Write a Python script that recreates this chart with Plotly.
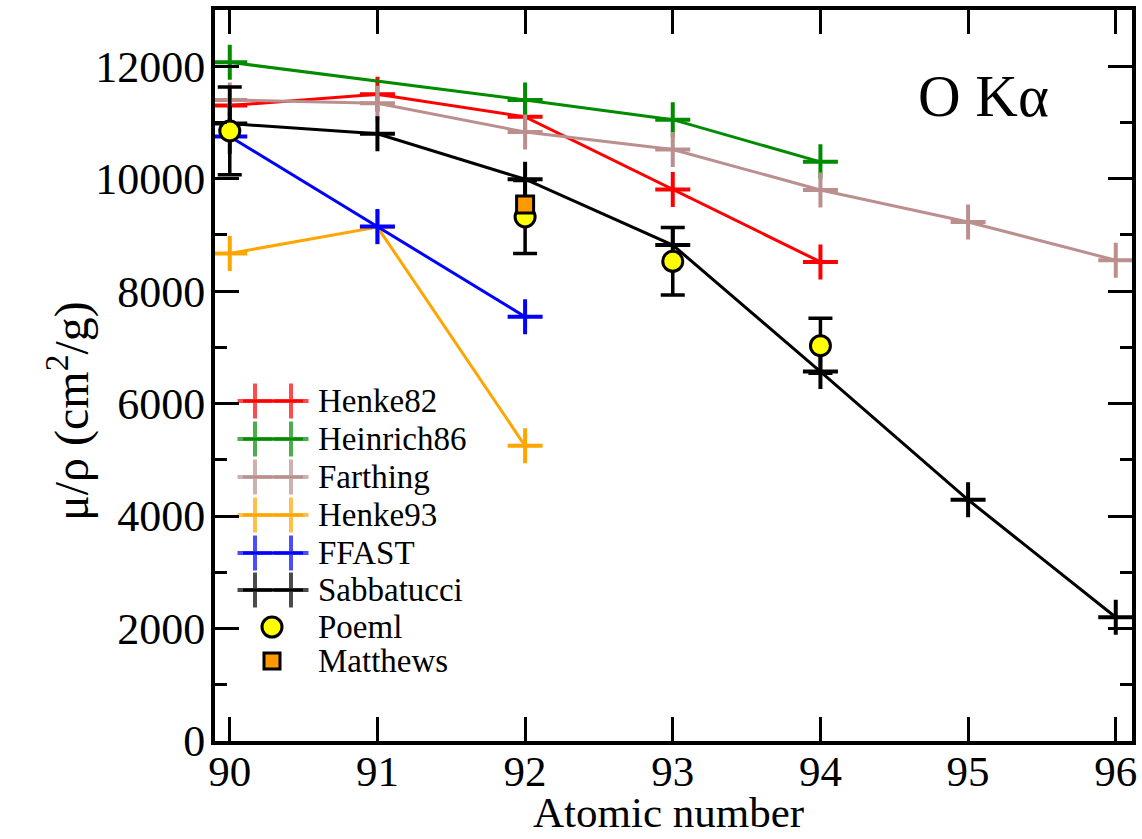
import plotly.graph_objects as go

# Data
henke82_x = [90, 91, 92, 93, 94]
henke82_y = [11300, 11500, 11100, 9810, 8520]

heinrich86_x = [90, 92, 93, 94]
heinrich86_y = [12070, 11400, 11050, 10300]

farthing_x = [90, 91, 92, 93, 94, 95, 96]
farthing_y = [11400, 11340, 10830, 10520, 9800, 9230, 8550]

henke93_x = [90, 91, 92]
henke93_y = [8670, 9140, 5250]

ffast_x = [90, 91, 92]
ffast_y = [10750, 9150, 7545]

sabbatucci_x = [90, 91, 92, 93, 94, 95, 96]
sabbatucci_y = [10980, 10800, 9990, 8820, 6570, 4290, 2200]

poeml_x = [90, 92, 93, 94]
poeml_y = [10850, 9320, 8530, 7030]
poeml_err = [780, 650, 600, 490]

matthews_x = [92]
matthews_y = [9540]

x_ticks = [90, 91, 92, 93, 94, 95, 96]
y_ticks = [0, 2000, 4000, 6000, 8000, 10000, 12000]

FONT = "Liberation Serif"

# Layout geometry (pixels)
L, R, T, B = 215, 1132, 10, 741
W, H = 1142, 839


def px_to_paper(px, py):
    return (px - L) / (R - L), (B - py) / (B - T)


fig = go.Figure()

line_series = [
    ("Henke82", henke82_x, henke82_y, "#ff0000"),
    ("Heinrich86", heinrich86_x, heinrich86_y, "#008b00"),
    ("Farthing", farthing_x, farthing_y, "#bc8f8f"),
    ("Henke93", henke93_x, henke93_y, "#ffa500"),
    ("FFAST", ffast_x, ffast_y, "#0000ff"),
    ("Sabbatucci", sabbatucci_x, sabbatucci_y, "#000000"),
]

for name, xs, ys, col in line_series:
    fig.add_trace(go.Scatter(
        x=xs, y=ys, name=name, mode="lines+markers", showlegend=False,
        line=dict(color=col, width=3),
        marker=dict(symbol="cross-thin", size=25, color=col,
                    line=dict(color=col, width=4)),
    ))

fig.add_trace(go.Scatter(
    x=poeml_x, y=poeml_y, name="Poeml", mode="markers", showlegend=False,
    marker=dict(symbol="circle", size=20, color="#ffff00",
                line=dict(color="#000000", width=3)),
    error_y=dict(type="data", array=poeml_err, visible=True,
                 color="#000000", thickness=3.5, width=12),
))

fig.add_trace(go.Scatter(
    x=matthews_x, y=matthews_y, name="Matthews", mode="markers", showlegend=False,
    marker=dict(symbol="square", size=17, color="#ff9900",
                line=dict(color="#000000", width=3)),
))

# Legend (xmgrace style) drawn on a pixel-based overlay axis
legend_rows_y = [401, 439, 477, 515, 553, 590, 627, 661]
for (name, xs, ys, col), ry in zip(line_series, legend_rows_y):
    fig.add_trace(go.Scatter(
        x=[243, 255, 291, 303], y=[ry] * 4, xaxis="x2", yaxis="y2",
        mode="lines+markers", showlegend=False, hoverinfo="skip",
        line=dict(color=col, width=3),
        marker=dict(symbol="cross-thin", size=[0, 25, 25, 0], color=col,
                    line=dict(color=col, width=4)),
    ))
fig.add_trace(go.Scatter(
    x=[272], y=[legend_rows_y[6]], xaxis="x2", yaxis="y2", mode="markers",
    showlegend=False, hoverinfo="skip",
    marker=dict(symbol="circle", size=20, color="#ffff00",
                line=dict(color="#000000", width=3)),
))
fig.add_trace(go.Scatter(
    x=[272], y=[legend_rows_y[7]], xaxis="x2", yaxis="y2", mode="markers",
    showlegend=False, hoverinfo="skip",
    marker=dict(symbol="square", size=16, color="#ff9900",
                line=dict(color="#000000", width=3)),
))

legend_names = [s[0] for s in line_series] + ["Poeml", "Matthews"]
for name, ry in zip(legend_names, legend_rows_y):
    fig.add_annotation(
        x=316, y=ry, xref="x2", yref="y2", text=name, showarrow=False,
        xanchor="left", yanchor="middle",
        font=dict(family=FONT, size=33, color="black"),
    )

ax, ay = px_to_paper(983, 96)
fig.add_annotation(
    x=ax, y=ay, xref="paper", yref="paper",
    text="O K\u03b1", showarrow=False,
    font=dict(family=FONT, size=59, color="black"),
    xanchor="center", yanchor="middle",
)

# Axis titles
tx, ty = px_to_paper(668, 813)
fig.add_annotation(
    x=tx, y=ty, xref="paper", yref="paper", text="Atomic number", showarrow=False,
    xanchor="center", yanchor="middle",
    font=dict(family=FONT, size=43, color="black"),
)
tx, ty = px_to_paper(68, 411)
fig.add_annotation(
    x=tx, y=ty, xref="paper", yref="paper", text="\u03bc/\u03c1 (cm<sup>2</sup>/g)",
    showarrow=False, textangle=-90, xanchor="center", yanchor="middle",
    font=dict(family=FONT, size=48, color="black"),
)

fig.update_layout(
    width=W, height=H,
    margin=dict(l=L, r=W - R, t=T, b=H - B, autoexpand=False),
    paper_bgcolor="white", plot_bgcolor="white",
    font=dict(family=FONT, color="black"),
    showlegend=False,
    xaxis=dict(
        range=[89.9, 96.11], automargin=False,
        tickmode="array", tickvals=x_ticks, ticktext=[str(v) for v in x_ticks],
        ticks="inside", ticklen=24, tickwidth=3, tickcolor="black",
        showline=True, linewidth=4, linecolor="black", mirror="allticks",
        showgrid=False, zeroline=False, ticklabelstandoff=-11,
        tickfont=dict(family=FONT, size=43, color="black"),
    ),
    yaxis=dict(
        range=[0, 13000], automargin=False,
        tickmode="array", tickvals=y_ticks, ticktext=[str(v) for v in y_ticks],
        ticks="inside", ticklen=24, tickwidth=3, tickcolor="black",
        minor=dict(dtick=1000, tick0=0, ticks="inside", ticklen=12, tickwidth=3, tickcolor="black"),
        showline=True, linewidth=4, linecolor="black", mirror="allticks",
        showgrid=False, zeroline=False, ticklabelstandoff=-3,
        tickfont=dict(family=FONT, size=44, color="black"),
    ),
    xaxis2=dict(range=[L, R], overlaying="x", visible=False, fixedrange=True),
    yaxis2=dict(range=[B, T], overlaying="y", visible=False, fixedrange=True),
)

fig.write_html("out.html")
